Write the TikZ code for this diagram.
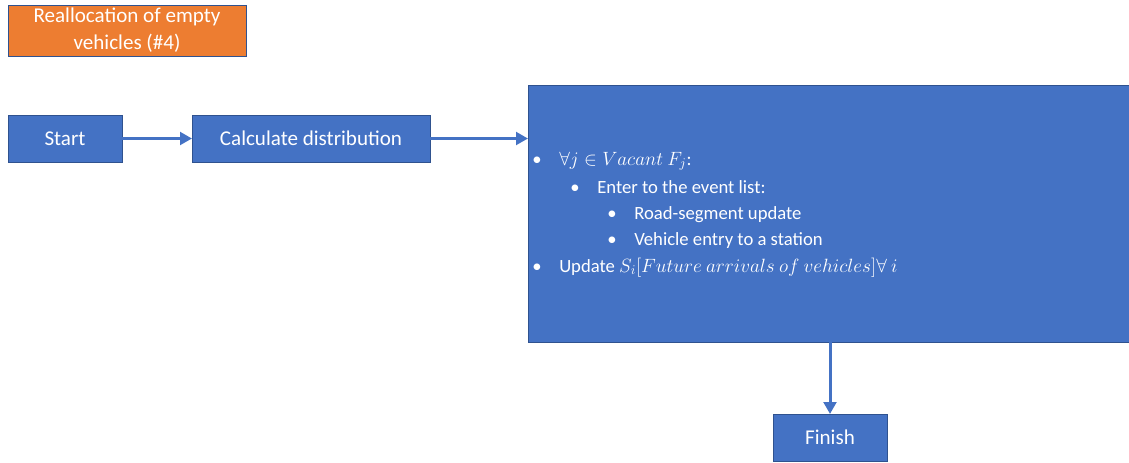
\documentclass[tikz,border=0pt]{standalone}
\usepackage{fontspec}
\setmainfont{Carlito}
\usetikzlibrary{arrows.meta}
\definecolor{boxblue}{RGB}{68,114,196}
\definecolor{edgeblue}{RGB}{47,82,143}
\definecolor{boxorange}{RGB}{237,125,49}
\newcommand{\itm}[1]{\makebox[20.25pt][l]{\textbullet}#1}

\begin{document}
\begin{tikzpicture}[x=0.75pt,y=-0.75pt,
    box/.style={draw=edgeblue, fill=boxblue, text=white, inner sep=0pt, outer sep=0pt, line width=0.6pt},
    flow/.style={draw=boxblue, line width=2.25pt, -{Triangle[length=9pt,width=9.5pt]}},
    line/.style={anchor=base west, text=white, inner sep=0pt, font=\fontsize{14}{17}\selectfont}]
    \useasboundingbox (0,0) rectangle (1129,462);
    \fontsize{15.8}{20.25}\selectfont
    \node[box, fill=boxorange, minimum width=178.5pt, minimum height=38.25pt, align=center] (title) at (127,30.5) {Reallocation of empty\\vehicles (\#4)};
    \node[box, minimum width=85.5pt, minimum height=35.25pt] (start) at (65,138.5) {Start};
    \node[box, minimum width=178.5pt, minimum height=35.25pt] (calc) at (311,138.5) {Calculate distribution};
    \node[box, minimum width=450.75pt, minimum height=192.75pt] (realloc) at (828.5,213.5) {};
    \node[box, minimum width=85.5pt, minimum height=35.25pt] (finish) at (830,437.5) {Finish};
    % contents of the big box
    \node[line] (l1) at (532,165) {\itm{$\forall j\in Vacant\ F_j$:}};
    \node[line] (l2) at (570,193) {\itm{Enter to the event list:}};
    \node[line] (l3) at (607,219) {\itm{Road-segment update}};
    \node[line] (l4) at (607,245) {\itm{Vehicle entry to a station}};
    \node[line] (l5) at (532,272) {\itm{Update $S_i[Future\ arrivals\ of\ vehicles]\forall\ i$}};
    % connectors
    \draw[flow] (start) -- (calc);
    \draw[flow] (calc.east) -- (calc.east -| realloc.west);
    \draw[flow] (finish.north |- realloc.south) -- (finish.north);
\end{tikzpicture}
\end{document}
